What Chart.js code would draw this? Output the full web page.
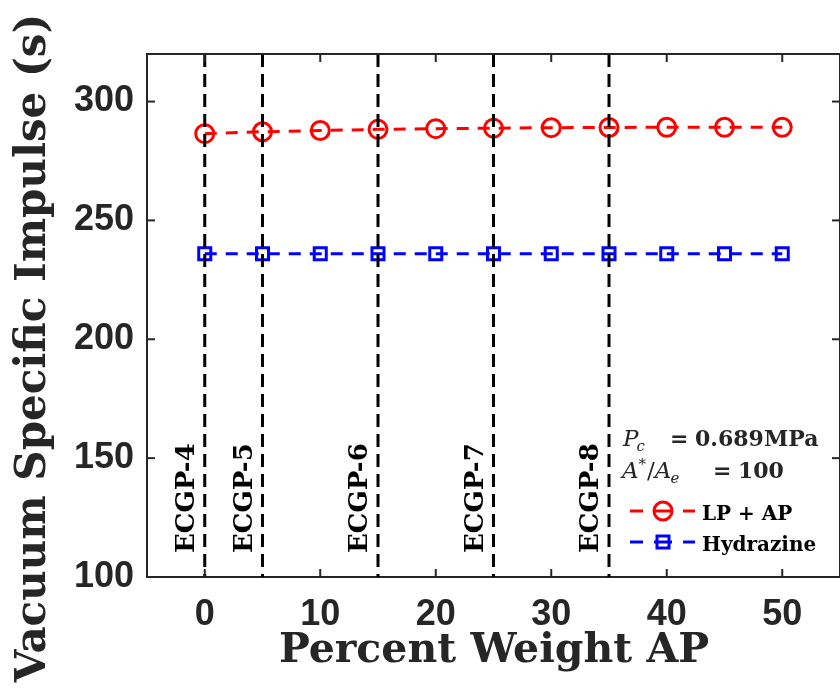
<!DOCTYPE html>
<html><head><meta charset="utf-8">
<script src="https://cdn.jsdelivr.net/npm/chart.js@4.4.1/dist/chart.umd.min.js"></script>
<style>html,body{margin:0;padding:0;background:#fff;}#wrap{width:840px;height:690px;}</style>
</head><body><div id="wrap"><canvas id="c" width="840" height="690"></canvas></div>
<script>
const percentAP = [0, 5, 10, 15, 20, 25, 30, 35, 40, 45, 50];
const ispLPAP = [286.5, 287.3, 287.8, 288.3, 288.6, 288.8, 289.0, 289.1, 289.2, 289.2, 289.2];
const ispHydrazine = [236, 236, 236, 236, 236, 236, 236, 236, 236, 236, 236];
const ecgpPositions = [0, 5, 15, 25, 35];
const ecgpLabels = ['ECGP-4', 'ECGP-5', 'ECGP-6', 'ECGP-7', 'ECGP-8'];
const xTicks = [0, 10, 20, 30, 40, 50];
const yTicks = [100, 150, 200, 250, 300];
const xRange = [-5, 55];
const yRange = [100, 320];
const seriesNames = ['LP + AP', 'Hydrazine'];

const AX = '#262626';
const SERIF = '"DejaVu Serif", serif';
const SANS = '"Liberation Sans", Arial, sans-serif';

const datasets = [];
ecgpPositions.forEach((p) => {
  datasets.push({
    data: [{x: p, y: yRange[1]}, {x: p, y: yRange[0]}],
    showLine: true, borderColor: '#000', borderWidth: 3, borderDash: [13, 7],
    pointRadius: 0, order: 0
  });
});
datasets.push({
  label: seriesNames[0],
  data: percentAP.map((x, i) => ({x, y: ispLPAP[i]})),
  showLine: true, borderColor: '#ff0000', borderWidth: 3, borderDash: [12, 9],
  pointStyle: 'circle', pointRadius: 9, pointBorderWidth: 3,
  pointBorderColor: '#ff0000', pointBackgroundColor: 'rgba(0,0,0,0)', order: 1
});
datasets.push({
  label: seriesNames[1],
  data: percentAP.map((x, i) => ({x, y: ispHydrazine[i]})),
  showLine: true, borderColor: '#0000ff', borderWidth: 3, borderDash: [12, 9],
  pointStyle: 'rect', pointRadius: 8.5, pointBorderWidth: 3,
  pointBorderColor: '#0000ff', pointBackgroundColor: 'rgba(0,0,0,0)', order: 1
});

function seg(ctx, x1, y1, x2, y2) { ctx.beginPath(); ctx.moveTo(x1, y1); ctx.lineTo(x2, y2); ctx.stroke(); }
function flow(ctx, x, y, list) {
  list.forEach(r => {
    ctx.font = r.f;
    if (r.x !== undefined) x = r.x;
    ctx.fillText(r.t, x, y + (r.dy || 0));
    x += ctx.measureText(r.t).width + (r.gap || 0);
  });
}

const decor = {
  id: 'decor',
  afterDraw(chart) {
    const ctx = chart.ctx, ca = chart.chartArea;
    const xs = chart.scales.x, ys = chart.scales.y;
    ctx.save();
    ctx.strokeStyle = AX; ctx.lineWidth = 2; ctx.setLineDash([]);
    ctx.beginPath(); ctx.moveTo(ca.left, ca.top); ctx.lineTo(ca.right, ca.top); ctx.lineTo(ca.right, ca.bottom); ctx.stroke();
    xTicks.forEach(v => { const p = xs.getPixelForValue(v); seg(ctx, p, ca.bottom, p, ca.bottom - 8); seg(ctx, p, ca.top, p, ca.top + 8); });
    yTicks.forEach(v => { const p = ys.getPixelForValue(v); seg(ctx, ca.left, p, ca.left + 8, p); seg(ctx, ca.right, p, ca.right - 8, p); });

    // ECGP labels
    ctx.fillStyle = '#000';
    ctx.font = 'bold 26px ' + SERIF;
    ctx.textAlign = 'left'; ctx.textBaseline = 'alphabetic';
    ecgpPositions.forEach((p, i) => {
      const px = xs.getPixelForValue(p);
      ctx.save(); ctx.translate(px - 11, 553); ctx.rotate(-Math.PI / 2);
      ctx.fillText(ecgpLabels[i], 0, 0); ctx.restore();
    });

    // axis titles
    ctx.fillStyle = AX;
    ctx.font = 'bold 41px ' + SERIF;
    ctx.textAlign = 'center';
    ctx.fillText('Percent Weight AP', 494, 662);
    ctx.font = 'bold 42px ' + SERIF;
    ctx.save(); ctx.translate(45, 348); ctx.rotate(-Math.PI / 2);
    ctx.fillText('Vacuum Specific Impulse (s)', 0, 0); ctx.restore();

    // annotation text
    ctx.textAlign = 'left';
    const it = 'italic 23px ' + SERIF, itS = 'italic 15px ' + SERIF, bd = 'bold 22px ' + SERIF, rg = '23px ' + SERIF;
    flow(ctx, 623, 446, [
      {t: 'P', f: it, gap: -2}, {t: 'c', f: itS, dy: 5},
      {t: '=', x: 670, f: bd}, {t: '0.689MPa', x: 695, f: bd}
    ]);
    flow(ctx, 622, 478, [
      {t: 'A', f: it, gap: 0}, {t: '*', f: itS, dy: -9, gap: 1},
      {t: '/', f: rg, gap: 0}, {t: 'A', f: it, gap: -1}, {t: 'e', f: itS, dy: 5},
      {t: '=', x: 713, f: bd}, {t: '100', x: 738, f: bd}
    ]);

    // legend
    ctx.lineWidth = 3;
    const leg = [
      {y: 511, c: '#ff0000', s: 'circle', ty: 520},
      {y: 542, c: '#0000ff', s: 'rect', ty: 551}
    ];
    leg.forEach((l, i) => {
      ctx.strokeStyle = l.c;
      seg(ctx, 630, l.y, 643, l.y); seg(ctx, 654, l.y, 672, l.y); seg(ctx, 683, l.y, 695, l.y);
      ctx.beginPath();
      if (l.s === 'circle') ctx.arc(663, l.y, 9, 0, Math.PI * 2); else ctx.rect(657, l.y - 6, 12, 12);
      ctx.stroke();
      ctx.fillStyle = '#000'; ctx.font = 'bold 20px ' + SERIF;
      ctx.fillText(seriesNames[i], 702, l.ty);
    });
    ctx.restore();
  }
};

new Chart(document.getElementById('c'), {
  type: 'scatter',
  data: {datasets},
  options: {
    responsive: false, animation: false, devicePixelRatio: 1,
    layout: {autoPadding: false, padding: {top: 54, right: -3, left: 0, bottom: 0}},
    plugins: {legend: {display: false}, tooltip: {enabled: false}},
    scales: {
      x: {
        type: 'linear', position: 'bottom', min: xRange[0], max: xRange[1],
        afterBuildTicks: s => { s.ticks = xTicks.map(v => ({value: v})); },
        afterFit: s => { s.height = 113; s.paddingLeft = 0; s.paddingRight = 0; },
        grid: {display: false, drawTicks: false},
        border: {display: true, color: AX, width: 2},
        ticks: {font: {family: SANS, size: 36, weight: 'bold'}, color: AX, padding: 16, maxRotation: 0, autoSkip: false}
      },
      y: {
        type: 'linear', position: 'left', min: yRange[0], max: yRange[1],
        afterBuildTicks: s => { s.ticks = yTicks.map(v => ({value: v})); },
        afterFit: s => { s.width = 147; s.paddingTop = 0; s.paddingBottom = 0; },
        grid: {display: false, drawTicks: false},
        border: {display: true, color: AX, width: 2},
        ticks: {font: {family: SANS, size: 36, weight: 'bold'}, color: AX, padding: 13, autoSkip: false}
      }
    }
  },
  plugins: [decor]
});
</script></body></html>
